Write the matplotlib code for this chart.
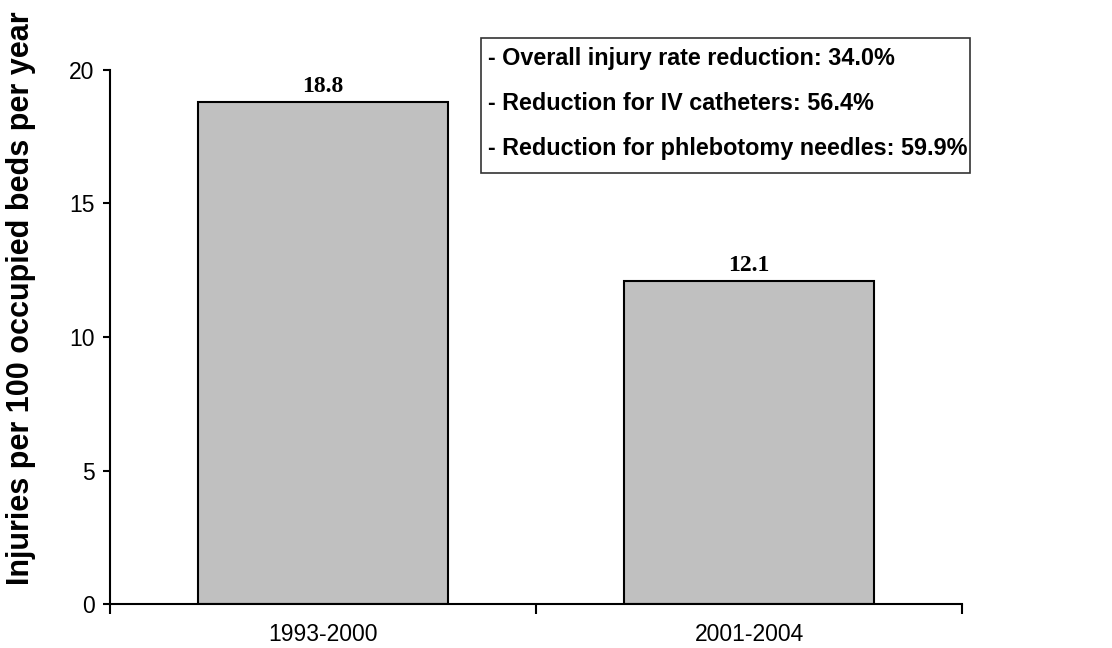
import matplotlib
matplotlib.use("Agg")
import matplotlib.pyplot as plt
from matplotlib.patches import Rectangle

categories = ["1993-2000", "2001-2004"]
values = [18.8, 12.1]
value_labels = ["18.8", "12.1"]
notes = [
    "- Overall injury rate reduction: 34.0%",
    "- Reduction for IV catheters: 56.4%",
    "- Reduction for phlebotomy needles: 59.9%",
]
y_ticks = [0, 5, 10, 15, 20]
ylabel = "Injuries per 100 occupied beds per year"

W, H = 1112, 648
fig = plt.figure(figsize=(W / 100, H / 100), dpi=100)
ax = fig.add_axes([110 / W, 1 - 604 / H, 852 / W, 534 / H])

x = list(range(len(categories)))
ax.bar(x, values, width=0.587, color="#C0C0C0", edgecolor="black", linewidth=1.5, zorder=2)
for xi, v, lab in zip(x, values, value_labels):
    ax.annotate(lab, (xi, v), xytext=(0, 3.5), textcoords="offset points",
                ha="center", va="bottom", fontsize=17, fontweight="bold",
                family="Liberation Serif")

ax.set_xlim(-0.5, len(categories) - 0.5)
ax.set_ylim(0, 20)
ax.set_yticks(y_ticks)
ax.set_yticklabels([str(t) for t in y_ticks], fontsize=16.5, family="Liberation Sans")
ax.set_xticks(x)
ax.set_xticklabels(categories, fontsize=16.5, family="Liberation Sans")
ax.set_xticks([i - 0.5 for i in range(len(categories) + 1)], minor=True)
ax.tick_params(axis="x", which="major", length=0, pad=14)
ax.tick_params(axis="x", which="minor", length=7, width=1.5, direction="out")
ax.tick_params(axis="y", which="major", length=5, width=1.5, direction="out", pad=6)
for s in ["top", "right"]:
    ax.spines[s].set_visible(False)
for s in ["left", "bottom"]:
    ax.spines[s].set_linewidth(1.5)

fig.text(21 / W, 1 - 298 / H, ylabel, rotation=90, ha="center", va="center",
         fontsize=22, fontweight="bold", family="Liberation Sans")

# annotation box
box = Rectangle((481 / W, 1 - 173 / H), (970 - 481) / W, (173 - 38) / H,
                transform=fig.transFigure, facecolor="white", edgecolor="#333333",
                linewidth=1.2, zorder=5)
fig.add_artist(box)
for note, yc in zip(notes, [59, 104, 149]):
    fig.text(488 / W, 1 - yc / H, note, ha="left", va="center", fontsize=16.8,
             fontweight="bold", family="Liberation Sans", zorder=6)

fig.savefig("out.png", dpi=100)
